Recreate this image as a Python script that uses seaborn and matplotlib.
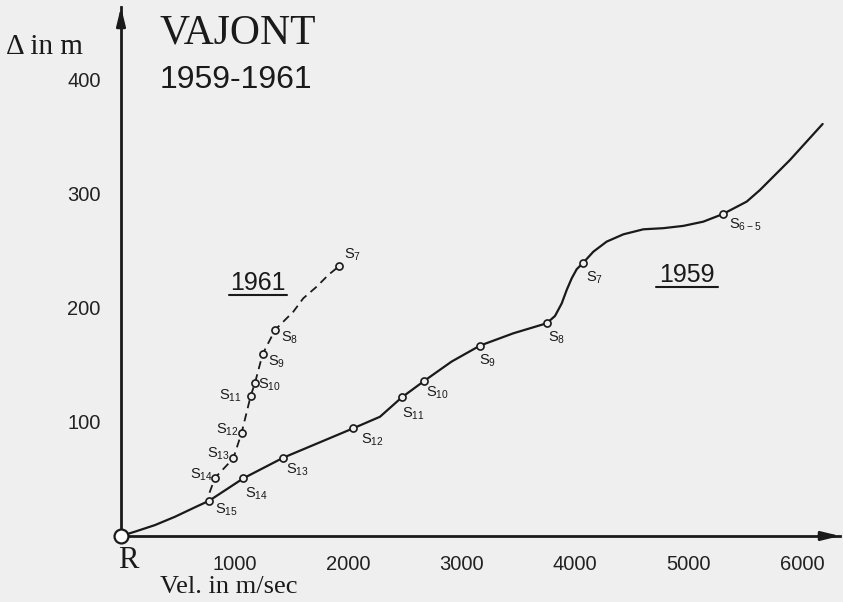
import matplotlib
matplotlib.use("Agg")
import matplotlib.pyplot as plt
from matplotlib.lines import Line2D
import seaborn as sns
import pandas as pd

# 1959 displacement curve: velocity (m/s) vs. displacement (m)
vel_1959 = [0, 123, 300, 476, 652, 778, 1078, 1430, 2047, 2282, 2473, 2671, 2913,
            3163, 3457, 3751, 3824, 3883, 3927, 3971, 4015, 4073, 4162, 4279, 4426,
            4602, 4778, 4954, 5130, 5301, 5513, 5630, 5894, 6182]
delta_1959 = [0, 3.8, 9.6, 16.9, 25.2, 31, 50.6, 68.7, 94.5, 104.6, 121.5, 136, 153,
              167, 177.8, 186.6, 193, 204, 215.8, 226, 234, 239.7, 249.4, 258.2, 264.6,
              269, 270, 272, 275.7, 282.3, 293.3, 303.5, 329.8, 361.4]

# 1959 survey stations
stations_1959 = ["15", "14", "13", "12", "11", "10", "9", "8", "7", "6-5"]
st_vel_1959 = [778, 1078, 1430, 2047, 2473, 2671, 3163, 3751, 4073, 5301]
st_delta_1959 = [31, 50.6, 68.7, 94.5, 121.5, 136, 167, 186.6, 239.7, 282.3]

# 1961 displacement curve
vel_1961 = [780, 828, 989, 1063, 1143, 1181, 1248, 1357, 1440, 1518, 1606, 1724,
            1827, 1923]
delta_1961 = [38, 51, 68, 90.6, 123, 134.5, 159.6, 180.7, 189, 196.7, 208.5, 218.7,
              229, 236.8]

# 1961 survey stations
stations_1961 = ["14", "13", "12", "11", "10", "9", "8", "7"]
st_vel_1961 = [828, 989, 1063, 1143, 1181, 1248, 1357, 1923]
st_delta_1961 = [51, 68, 90.6, 123, 134.5, 159.6, 180.7, 236.8]

x_ticks = [1000, 2000, 3000, 4000, 5000, 6000]
y_ticks = [100, 200, 300, 400]

BG = "#efefef"
INK = "#1a1a1a"

sns.set_theme(style="white")
plt.rcParams["font.family"] = ["Liberation Sans", "DejaVu Sans"]
plt.rcParams["mathtext.default"] = "regular"

W, H = 843, 602
fig = plt.figure(figsize=(W / 100, H / 100), dpi=100, facecolor=BG)


def fx(px):
    return px / W


def fy(py):
    return 1 - py / H


# origin at pixel (121, 536); axis tips at x=840, y=7
ax = fig.add_axes([fx(121), fy(536), fx(840) - fx(121), fy(7) - fy(536)])
ax.set_facecolor(BG)
ax.set_xlim(0, 6335)
ax.set_ylim(0, 464)

d59 = pd.DataFrame({"vel": vel_1959, "delta": delta_1959})
d61 = pd.DataFrame({"vel": vel_1961, "delta": delta_1961})
sns.lineplot(data=d59, x="vel", y="delta", sort=False, estimator=None,
             color=INK, linewidth=1.6, ax=ax, clip_on=False)
sns.lineplot(data=d61, x="vel", y="delta", sort=False, estimator=None,
             color=INK, linewidth=1.3, ax=ax, clip_on=False)
ax.lines[-1].set_dashes((4.5, 3))
for ln in ax.lines:
    ln.set_solid_joinstyle("round")

s59 = pd.DataFrame({"vel": st_vel_1959, "delta": st_delta_1959})
s61 = pd.DataFrame({"vel": st_vel_1961, "delta": st_delta_1961})
for s in (s59, s61):
    sns.scatterplot(data=s, x="vel", y="delta", marker="o", s=26,
                    facecolor=BG, edgecolor=INK, linewidth=1.2, ax=ax, zorder=4)

# origin R
ax.plot([0], [0], marker="o", markersize=10, markerfacecolor="white",
        markeredgecolor=INK, markeredgewidth=1.6, clip_on=False, zorder=5)

# station labels
off59 = [(6, -1), (2, -7), (3, -4), (8, -3), (0, -8), (2, -4), (-1, -7), (1, -6),
         (3, -7), (6, -2)]
for name, v, d, o in zip(stations_1959, st_vel_1959, st_delta_1959, off59):
    ax.annotate(f"$S_{{{name}}}$", (v, d), xytext=o, textcoords="offset pixels",
                ha="left", va="top", fontsize=10.5, color=INK)

off61 = [(-2, 3, "right"), (-3, 5, "right"), (-3, 3, "right"), (-9, 0, "right"),
         (3, -2, "left"), (5, -8, "left"), (6, -8, "left"), (5, 11, "left")]
for name, v, d, o in zip(stations_1961, st_vel_1961, st_delta_1961, off61):
    ax.annotate(f"$S_{{{name}}}$", (v, d), xytext=(o[0], o[1]),
                textcoords="offset pixels", ha=o[2], va="center",
                fontsize=10.5, color=INK)

# axes styling
for side in ("top", "right"):
    ax.spines[side].set_visible(False)
for side in ("left", "bottom"):
    ax.spines[side].set_color(INK)
    ax.spines[side].set_linewidth(2.0)
ax.set_xticks(x_ticks)
ax.set_yticks(y_ticks)
ax.set_xticklabels([str(t) for t in x_ticks])
ax.set_yticklabels([str(t) for t in y_ticks])
ax.tick_params(axis="both", direction="inout", length=11, width=1.4, color=INK,
               labelsize=14.5, labelcolor="#222222")
ax.tick_params(axis="x", pad=8)
ax.tick_params(axis="y", pad=9)
ax.set_xlabel("")
ax.set_ylabel("")

# axis arrowheads
ax.annotate("", xy=(0, 1), xytext=(0, 0.96), xycoords="axes fraction",
            arrowprops=dict(arrowstyle="-|>,head_length=0.9,head_width=0.22",
                            color=INK, lw=2.0, shrinkA=0, shrinkB=0))
ax.annotate("", xy=(1, 0), xytext=(0.97, 0), xycoords="axes fraction",
            arrowprops=dict(arrowstyle="-|>,head_length=0.9,head_width=0.22",
                            color=INK, lw=2.0, shrinkA=0, shrinkB=0))

serif = ["Liberation Serif", "DejaVu Serif"]

# titles and axis names
fig.text(fx(160), fy(43), "VAJONT", family=serif, fontsize=30, color=INK,
         ha="left", va="baseline")
fig.text(fx(160), fy(88), "1959-1961", fontsize=23, color=INK,
         ha="left", va="baseline")
fig.text(fx(6), fy(54), "Δ in m", family=serif, fontsize=21, color=INK,
         ha="left", va="baseline")
fig.text(fx(118), fy(568), "R", family=serif, fontsize=22, color=INK,
         ha="left", va="baseline")
fig.text(fx(160), fy(593), "Vel. in m/sec", family=serif, fontsize=19, color=INK,
         ha="left", va="baseline")

# series year labels, underlined
fig.text(fx(258), fy(290), "1961", fontsize=18, color=INK, ha="center",
         va="baseline")
fig.add_artist(Line2D([fx(229), fx(287)], [fy(295), fy(295)], color=INK, lw=1.5))
fig.text(fx(687), fy(282), "1959", fontsize=18, color=INK, ha="center",
         va="baseline")
fig.add_artist(Line2D([fx(656), fx(718)], [fy(287), fy(287)], color=INK, lw=1.5))

fig.savefig("out.png", dpi=100, facecolor=BG)
